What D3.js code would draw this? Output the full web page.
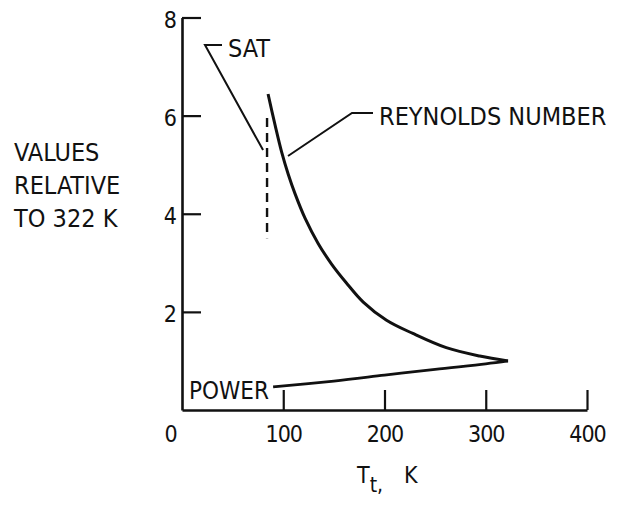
<!DOCTYPE html>
<html>
<head>
<meta charset="utf-8">
<script src="https://cdn.jsdelivr.net/npm/d3@7/dist/d3.min.js"></script>
<style>
  html, body { margin: 0; padding: 0; background: #fff; }
  svg { display: block; }
  text {
    font-family: "DejaVu Sans Condensed", "DejaVu Sans", "Liberation Sans Narrow", sans-serif;
    font-stretch: condensed;
    fill: #111;
  }
</style>
</head>
<body>
<svg id="chart" width="619" height="505"></svg>
<script>
// Total temperature, K, and values relative to 322 K
const reynoldsT = [85, 92, 98.5, 105, 111.6, 121.5, 134.6, 147.9, 162, 179, 202, 228, 261, 294, 322];
const reynoldsV = [6.44, 5.80, 5.25, 4.80, 4.41, 3.91, 3.39, 2.97, 2.60, 2.20, 1.83, 1.56, 1.27, 1.10, 1.0];
const powerT = [90, 150, 200, 250, 300, 322];
const powerV = [0.47, 0.59, 0.71, 0.83, 0.94, 1.0];
// Saturation temperature marker and its vertical extent
const satT = 84;
const satRange = [3.5, 5.95];

const xTicks = [0, 100, 200, 300, 400];
const yTicks = [2, 4, 6, 8];
const xTitle = ["T", "t", ",", "K"];
const yTitle = ["VALUES", "RELATIVE", "TO 322 K"];
const labels = { sat: "SAT", reynolds: "REYNOLDS NUMBER", power: "POWER" };

const svg = d3.select("#chart");
const x = d3.scaleLinear().domain([0, 400]).range([182, 587]);
const y = d3.scaleLinear().domain([0, 8]).range([410, 17.5]);
const ink = "#111";

// Axes: ticks point inward
const xAxis = svg.append("g")
  .attr("transform", `translate(0,${y(0)})`)
  .call(d3.axisBottom(x).tickValues(xTicks).tickSizeInner(-20).tickSizeOuter(0).tickPadding(16));
const yAxis = svg.append("g")
  .attr("transform", `translate(${x(0)},0)`)
  .call(d3.axisLeft(y).tickValues(yTicks).tickSizeInner(-19).tickSizeOuter(0).tickPadding(5));

[xAxis, yAxis].forEach(g => {
  g.attr("font-family", null).attr("font-size", null);
  g.select(".domain").attr("stroke", ink).attr("stroke-width", 2.6);
  g.selectAll(".tick line").attr("stroke", ink).attr("stroke-width", 2.2);
  g.selectAll(".tick text").attr("fill", ink).style("font-size", "23px");
});
xAxis.selectAll(".tick text").attr("letter-spacing", -1);
xAxis.selectAll(".tick").filter(d => d === 0).select("line").remove();
xAxis.selectAll(".tick").filter(d => d === 0).select("text").attr("dx", -12);
yAxis.selectAll(".tick text").attr("dy", "0.42em");

// Curves
const line = d3.line().x(d => x(d[0])).y(d => y(d[1])).curve(d3.curveCatmullRom.alpha(0.5));
svg.append("path")
  .datum(reynoldsT.map((t, i) => [t, reynoldsV[i]]))
  .attr("d", line).attr("fill", "none").attr("stroke", ink).attr("stroke-width", 3);
svg.append("path")
  .datum(powerT.map((t, i) => [t, powerV[i]]))
  .attr("d", line).attr("fill", "none").attr("stroke", ink).attr("stroke-width", 2.8);

// Saturation line
svg.append("line")
  .attr("x1", x(satT)).attr("x2", x(satT))
  .attr("y1", y(satRange[1])).attr("y2", y(satRange[0]))
  .attr("stroke", ink).attr("stroke-width", 2.4).attr("stroke-dasharray", "9,6");

// Labels with leaders
const lead = (pts) => svg.append("path")
  .attr("d", d3.line()(pts)).attr("fill", "none").attr("stroke", ink).attr("stroke-width", 2);

lead([[222, 45], [205, 45], [x(satT) - 4, y(satRange[1]) + 32]]);
svg.append("text").attr("x", 228).attr("y", 57).style("font-size", "25px").text(labels.sat);

lead([[373, 113], [352, 113], [288, 156]]);
svg.append("text").attr("x", 379).attr("y", 125).style("font-size", "25px").text(labels.reynolds);

svg.append("text").attr("x", 189).attr("y", 399).style("font-size", "24px").text(labels.power);

// Left title
yTitle.forEach((s, i) => {
  svg.append("text").attr("x", 14).attr("y", 161 + i * 33).style("font-size", "25px").text(s);
});

// Bottom title: T with subscript t
const xt = svg.append("text").attr("x", 357).attr("y", 483).style("font-size", "23px");
xt.append("tspan").text(xTitle[0]);
xt.append("tspan").attr("dy", 9).style("font-size", "21px").text(xTitle[1] + xTitle[2]);
xt.append("tspan").attr("x", 404).attr("dy", -9).text(xTitle[3]);
</script>
</body>
</html>
